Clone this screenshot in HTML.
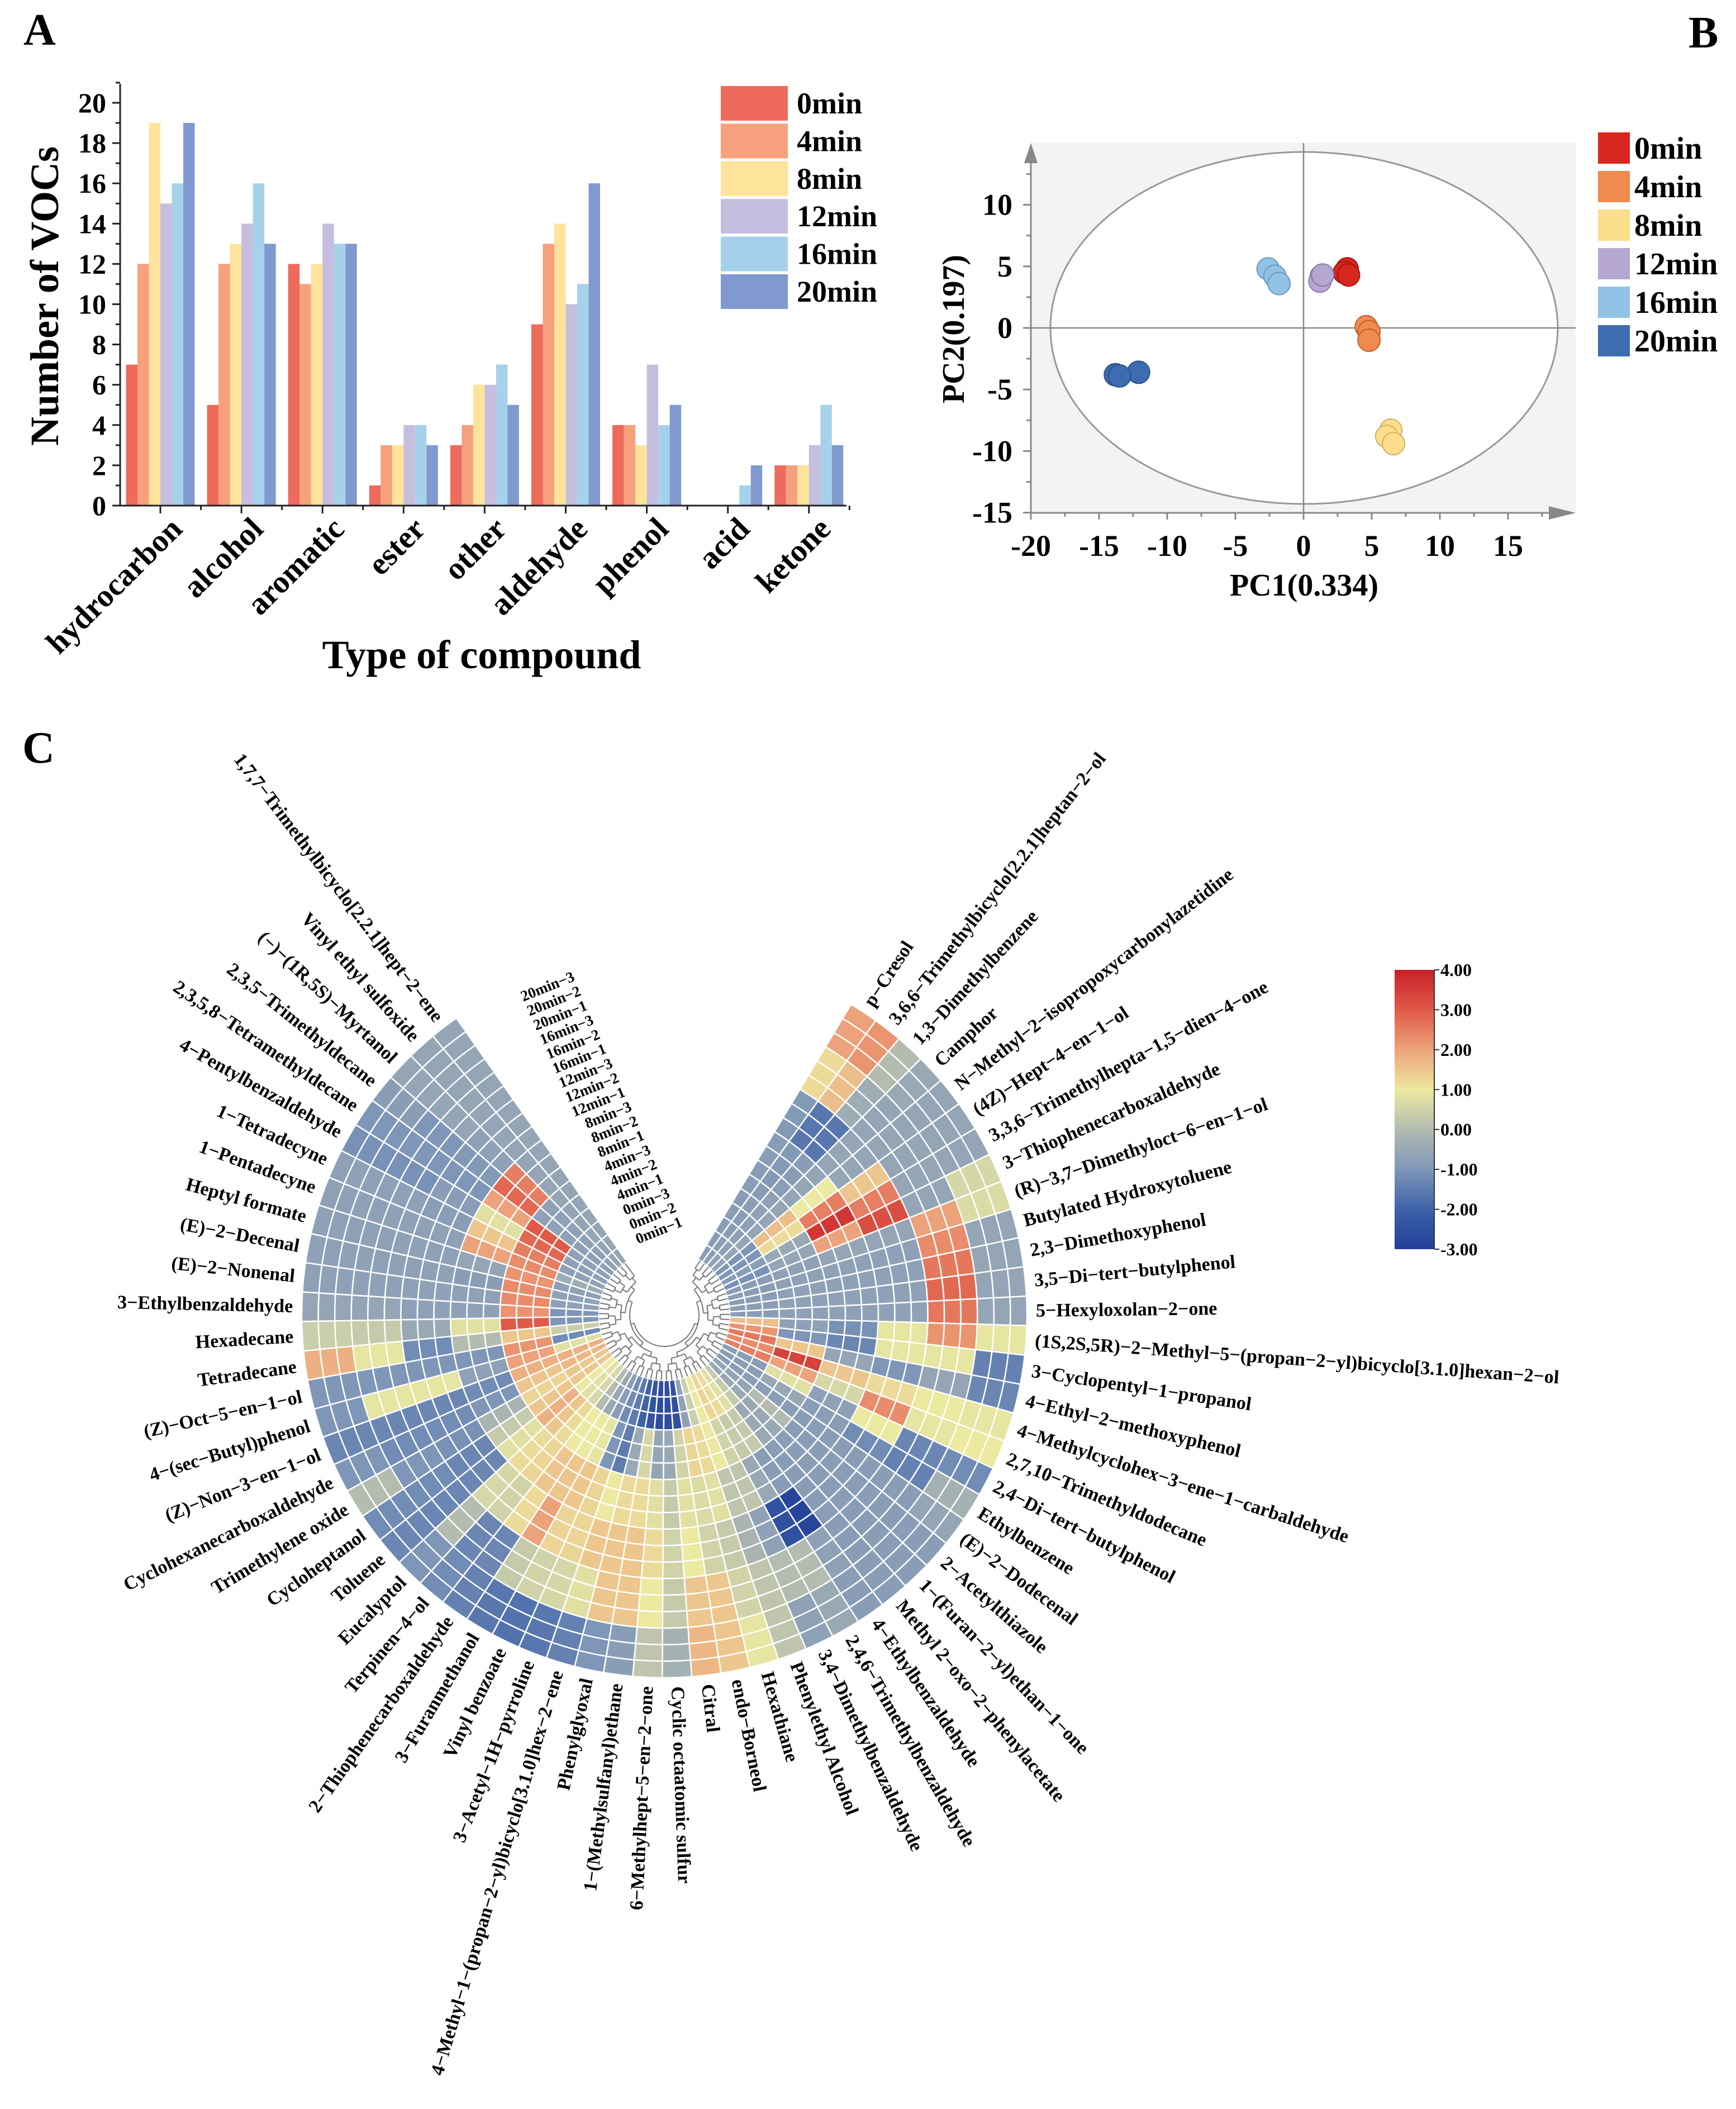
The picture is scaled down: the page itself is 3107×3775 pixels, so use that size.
<!DOCTYPE html>
<html><head><meta charset="utf-8">
<style>
html,body{margin:0;padding:0;background:#fff;}
svg{display:block;font-family:"Liberation Serif",serif;font-weight:bold;}
</style></head>
<body>
<svg id="fig" width="3107" height="3775" viewBox="0 0 3107 3775" xmlns="http://www.w3.org/2000/svg">
<rect x="0" y="0" width="3107" height="3775" fill="#fff"/>
<text x="42" y="80" font-size="80">A</text>
<text x="3022" y="85" font-size="80">B</text>
<text x="40" y="1365" font-size="80">C</text>
<g id="panelA"></g>
<g id="panelB"></g>
<g id="panelC"></g>
</svg>
<script>
// ---------- Panel A data ----------
const catA = ["hydrocarbon","alcohol","aromatic","ester","other","aldehyde","phenol","acid","ketone"];
const v0min  = [7,5,12,1,3,9,4,0,2];
const v4min  = [12,12,11,3,4,13,4,0,2];
const v8min  = [19,13,12,3,6,14,3,0,2];
const v12min = [15,14,14,4,6,10,7,0,3];
const v16min = [16,16,13,4,7,11,4,1,5];
const v20min = [19,13,13,3,5,16,5,2,3];
const seriesNamesA = ["0min","4min","8min","12min","16min","20min"];
const yTicksA = [0,2,4,6,8,10,12,14,16,18,20];

// ---------- Panel B data ----------
const groupsB = ["0min","4min","8min","12min","16min","20min"];
const pc1_0min=[3.2,3.0,3.3], pc2_0min=[4.8,4.5,4.3];
const pc1_4min=[4.6,4.8,4.8], pc2_4min=[0.1,-0.3,-1.0];
const pc1_8min=[6.4,6.1,6.6], pc2_8min=[-8.3,-8.8,-9.4];
const pc1_12min=[1.3,1.2,1.4], pc2_12min=[4.2,3.8,4.3];
const pc1_16min=[-2.6,-2.1,-1.8], pc2_16min=[4.8,4.2,3.6];
const pc1_20min=[-13.8,-12.1,-13.5], pc2_20min=[-3.8,-3.6,-3.9];
const xTicksB=[-20,-15,-10,-5,0,5,10,15];
const yTicksB=[-15,-10,-5,0,5,10];

// ---------- Panel C data ----------
const compounds = ["p−Cresol","3,6,6−Trimethylbicyclo[2.2.1]heptan−2−ol","1,3−Dimethylbenzene","Camphor","N−Methyl−2−isopropoxycarbonylazetidine","(4Z)−Hept−4−en−1−ol","3,3,6−Trimethylhepta−1,5−dien−4−one","3−Thiophenecarboxaldehyde","(R)−3,7−Dimethyloct−6−en−1−ol","Butylated Hydroxytoluene","2,3−Dimethoxyphenol","3,5−Di−tert−butylphenol","5−Hexyloxolan−2−one","(1S,2S,5R)−2−Methyl−5−(propan−2−yl)bicyclo[3.1.0]hexan−2−ol","3−Cyclopentyl−1−propanol","4−Ethyl−2−methoxyphenol","4−Methylcyclohex−3−ene−1−carbaldehyde","2,7,10−Trimethyldodecane","2,4−Di−tert−butylphenol","Ethylbenzene","(E)−2−Dodecenal","2−Acetylthiazole","1−(Furan−2−yl)ethan−1−one","Methyl 2−oxo−2−phenylacetate","4−Ethylbenzaldehyde","2,4,6−Trimethylbenzaldehyde","3,4−Dimethylbenzaldehyde","Phenylethyl Alcohol","Hexathiane","endo−Borneol","Citral","Cyclic octaatomic sulfur","6−Methylhept−5−en−2−one","1−(Methylsulfanyl)ethane","Phenylglyoxal","4−Methyl−1−(propan−2−yl)bicyclo[3.1.0]hex−2−ene","3−Acetyl−1H−pyrroline","Vinyl benzoate","3−Furanmethanol","2−Thiophenecarboxaldehyde","Terpinen−4−ol","Eucalyptol","Toluene","Cycloheptanol","Trimethylene oxide","Cyclohexanecarboxaldehyde","(Z)−Non−3−en−1−ol","4−(sec−Butyl)phenol","(Z)−Oct−5−en−1−ol","Tetradecane","Hexadecane","3−Ethylbenzaldehyde","(E)−2−Nonenal","(E)−2−Decenal","Heptyl formate","1−Pentadecyne","1−Tetradecyne","4−Pentylbenzaldehyde","2,3,5,8−Tetramethyldecane","2,3,5−Trimethyldecane","(−)−(1R,5S)−Myrtanol","Vinyl ethyl sulfoxide","1,7,7−Trimethylbicyclo[2.2.1]hept−2−ene"];
const samples = ["0min−1","0min−2","0min−3","4min−1","4min−2","4min−3","8min−1","8min−2","8min−3","12min−1","12min−2","12min−3","16min−1","16min−2","16min−3","20min−1","20min−2","20min−3"];
// values per compound: [0min,4min,8min,12min,16min,20min]
const heatValues = [
[-0.8,-0.8,-0.8,-0.9,1.2,2.0],
[-0.8,-0.8,-0.9,-1.6,1.6,2.2],
[-0.7,-0.7,-0.8,-1.6,-0.4,0.0],
[-0.6,-0.6,-0.6,-0.6,-0.6,-0.5],
[-1.0,1.6,1.0,-0.6,-0.6,-0.6],
[-1.0,1.2,2.5,1.5,-0.6,-0.6],
[-0.8,-0.5,3.6,2.5,-0.6,-0.6],
[-1.1,-0.6,2.0,3.2,-0.6,0.6],
[-0.8,-0.7,-0.6,-0.6,2.0,0.7],
[-0.8,-0.7,-0.7,-0.7,2.3,-0.6],
[-0.8,-0.7,-0.7,-0.7,2.6,-0.6],
[-0.8,-0.7,-0.7,-0.7,2.8,-0.6],
[-0.8,-0.7,-0.7,-0.7,2.6,-0.6],
[1.6,-0.7,-1.1,0.9,2.2,0.9],
[2.2,-1.0,-1.3,0.9,0.9,-1.4],
[2.6,1.5,-0.6,-1.0,-0.6,-1.3],
[2.3,3.4,1.5,1.2,1.0,0.9],
[2.5,2.0,0.6,2.3,0.9,1.0],
[-0.8,0.8,-0.7,1.0,-1.3,-1.2],
[-0.8,-0.5,-0.8,-1.2,-1.4,-0.3],
[-0.8,-0.8,-0.8,-0.8,-0.8,-0.6],
[-0.6,0.0,-0.8,-0.8,-0.8,-0.8],
[-0.5,-0.5,-0.8,-0.8,-0.8,-0.8],
[0.3,-0.5,-0.8,-0.8,-0.8,-0.8],
[0.8,0.3,-0.8,-2.8,-0.7,-0.8],
[1.2,0.3,-0.5,-2.5,0.0,-0.5],
[1.3,0.5,0.2,-0.7,0.0,-0.7],
[1.0,1.0,0.2,-0.2,0.2,0.2],
[0.4,1.2,0.8,0.3,0.5,0.9],
[-0.7,1.3,0.7,0.5,1.5,1.5],
[-2.5,0.5,0.8,1.0,1.5,1.7],
[-2.6,-0.5,0.3,0.5,0.3,-0.3],
[-2.6,-0.6,0.8,1.2,1.0,0.2],
[-2.4,0.6,1.2,1.5,1.5,-0.8],
[-2.0,-0.5,1.2,1.5,1.5,-1.0],
[-1.5,-1.5,1.0,1.5,0.8,-1.4],
[-1.2,-1.0,1.3,1.3,0.6,-1.6],
[-0.8,0.9,1.5,1.3,0.5,-1.7],
[-0.5,1.0,1.5,2.0,0.3,-1.6],
[0.0,1.0,1.5,1.2,-1.3,-1.4],
[0.6,1.2,1.3,0.5,-1.3,-1.2],
[0.8,1.5,1.2,0.6,0.0,-1.0],
[1.0,1.8,0.8,-1.3,-1.3,-1.3],
[1.5,1.5,0.3,-1.3,-1.2,-1.2],
[1.5,1.3,-0.2,-1.1,-1.0,0.0],
[1.7,1.5,-1.0,-1.2,-1.2,-1.0],
[1.8,1.8,-1.2,-1.3,-1.3,-1.3],
[0.8,2.0,-0.7,0.9,0.9,-1.0],
[-1.2,2.2,-1.0,-1.0,-1.0,-1.0],
[0.4,1.5,0.0,-1.2,0.9,1.8],
[-1.0,3.0,0.8,-0.5,0.3,0.4],
[-1.0,2.2,-0.7,-0.7,-0.6,-0.6],
[-0.7,2.3,-0.7,-0.7,-0.7,-0.7],
[-0.7,2.3,-0.8,-0.7,-0.7,-0.7],
[-0.7,2.2,-0.6,-0.7,-0.7,-0.7],
[-0.4,2.3,2.0,-0.7,-0.7,-0.7],
[-0.7,2.5,1.5,-0.8,-0.7,-0.7],
[-0.7,2.8,0.8,-0.8,-1.1,-1.1],
[-0.7,3.0,2.0,-1.0,-1.0,-1.0],
[-0.7,-0.7,2.8,-0.9,-1.0,-0.8],
[-0.7,-0.7,2.5,-0.7,-0.6,-0.6],
[-0.6,-0.6,-0.6,-0.6,-0.6,-0.6],
[-0.6,-0.6,-0.6,-0.6,-0.6,-0.6]
];
const colorbarTicks = [4,3,2,1,0,-1,-2,-3];

const NS="http://www.w3.org/2000/svg";
function mk(tag,attrs,parent){const e=document.createElementNS(NS,tag);for(const k in attrs)e.setAttribute(k,attrs[k]);parent.appendChild(e);return e;}

// ================= Panel A =================
(function(){
const g=document.getElementById('panelA');
const colsA=["#ee6a5a","#f6a07e","#fde49a","#c6bedf","#a5d2ea","#8099cf"];
const seriesA=[v0min,v4min,v8min,v12min,v16min,v20min];
const x0=215, y0=905, yTop=150, xEnd=1515;
const ys=v=>y0-v*36.05;
const gx=i=>287+i*145.1;
const bw=20.5;
seriesA.forEach((arr,j)=>{
  arr.forEach((v,i)=>{
    if(v<=0) return;
    const r=mk('rect',{x:gx(i)+(j-3)*bw,y:ys(v),width:bw,height:y0-ys(v),fill:colsA[j]},g);
    
    
  });
});
const ax=mk('path',{d:`M${x0} ${yTop} V${y0} H${xEnd}`,stroke:'#222',fill:'none','stroke-width':3},g);

for(let v=0;v<=21;v++){
  const major=v%2===0;
  mk('line',{x1:x0,x2:x0-(major?14:8),y1:ys(v),y2:ys(v),stroke:'#222','stroke-width':3},g);
}
yTicksA.forEach(v=>{
  const t=mk('text',{x:190,y:ys(v)+17,'font-size':50,'text-anchor':'end'},g);t.textContent=v;
  
});
catA.forEach((c,i)=>{
  mk('line',{x1:gx(i),x2:gx(i),y1:y0,y2:y0+14,stroke:'#222','stroke-width':3},g);
  mk('line',{x1:gx(i)+72.5,x2:gx(i)+72.5,y1:y0,y2:y0+8,stroke:'#222','stroke-width':3},g);
  const t=mk('text',{x:gx(i)+42,y:950,'font-size':57,'text-anchor':'end',transform:`rotate(-45 ${gx(i)+42} 950)`},g);
  t.textContent=c;
  
});
const yt=mk('text',{x:0,y:0,'font-size':72,'text-anchor':'middle',transform:'translate(104 530) rotate(-90)'},g);
yt.textContent='Number of VOCs';
const xt=mk('text',{x:862,y:1196,'font-size':72,'text-anchor':'middle'},g);
xt.textContent='Type of compound';
const legY=[185,252,319,388,455,522];
seriesNamesA.forEach((n,j)=>{
  const cy=legY[0]+j*67.4;
  const r=mk('rect',{x:1290,y:cy-31,width:120,height:62,fill:colsA[j]},g);
  
  const t=mk('text',{x:1426,y:cy+18,'font-size':54},g);t.textContent=n;
  
});
})();

// ================= Panel B =================
(function(){
const g=document.getElementById('panelB');
const colsB=["#d7261e","#f08a4f","#fbdd8b","#b5a6d2","#92c2e6","#3d6db0"];
const strokeB=["#a01810","#c0602c","#d2b060","#8a7aaa","#6a9ac0","#2a4f88"];
const xs=v=>2333+v*24.4, ys=v=>587-v*22.04;
const top=256, bot=918;
const bg=mk('rect',{x:1845,y:top,width:975,height:bot-top,fill:'#f3f3f3'},g);

const el=mk('ellipse',{cx:2334,cy:587,rx:454,ry:315,fill:'#fff',stroke:'#999','stroke-width':3},g);

mk('line',{x1:xs(0),x2:xs(0),y1:top,y2:bot,stroke:'#888','stroke-width':2.5},g);
mk('line',{x1:1845,x2:2820,y1:ys(0),y2:ys(0),stroke:'#888','stroke-width':2.5},g);
const ax=mk('path',{d:`M1845 290 V${bot} H2780`,stroke:'#888',fill:'none','stroke-width':3},g);

mk('path',{d:`M1845 ${top} L1833 ${top+36} L1857 ${top+36} Z`,fill:'#888'},g);
mk('path',{d:`M2820 ${bot} L2772 ${bot-12} L2772 ${bot+12} Z`,fill:'#888'},g);
for(let v=-20;v<=17.5;v+=2.5){const maj=v%5===0;mk('line',{x1:xs(v),x2:xs(v),y1:bot,y2:bot+(maj?12:7),stroke:'#888','stroke-width':3},g);}
for(let v=-15;v<=12.5;v+=2.5){const maj=v%5===0;mk('line',{x1:1845,x2:1845-(maj?14:8),y1:ys(v),y2:ys(v),stroke:'#888','stroke-width':3},g);}
xTicksB.forEach(v=>{const t=mk('text',{x:xs(v),y:995,'font-size':54,'text-anchor':'middle'},g);t.textContent=v;
 });
yTicksB.forEach(v=>{const t=mk('text',{x:1812,y:ys(v)+18,'font-size':54,'text-anchor':'end'},g);t.textContent=v;
 });
const xt=mk('text',{x:2334,y:1066,'font-size':56,'text-anchor':'middle'},g);xt.textContent='PC1(0.334)';

const yt=mk('text',{x:0,y:0,'font-size':56,'text-anchor':'middle',transform:'translate(1725 589) rotate(-90)'},g);yt.textContent='PC2(0.197)';

const px=[pc1_0min,pc1_4min,pc1_8min,pc1_12min,pc1_16min,pc1_20min];
const py=[pc2_0min,pc2_4min,pc2_8min,pc2_12min,pc2_16min,pc2_20min];
px.forEach((arr,j)=>{arr.forEach((v,k)=>{
  const c=mk('circle',{cx:xs(v),cy:ys(py[j][k]),r:20,fill:colsB[j],stroke:strokeB[j],'stroke-width':2},g);
  
});});
groupsB.forEach((n,j)=>{
  const cy=265+j*69;
  const r=mk('rect',{x:2860,y:cy-28,width:57,height:56,fill:colsB[j]},g);
  
  const t=mk('text',{x:2925,y:cy+19,'font-size':56},g);t.textContent=n;
  
});
})();

// ================= Panel C =================
(function(){
const g=document.getElementById('panelC');
const cx=1189, cy=2354, rIn=117, rOut=649, a0=31, da=(325-31)/compounds.length;
const ringW=(rOut-rIn)/samples.length;
const stops=[[-3,[33,63,152]],[-2,[62,98,168]],[-1,[126,150,184]],[0,[180,188,176]],[1,[236,233,160]],[2,[236,162,122]],[3,[224,90,72]],[4,[200,32,42]]];
function col(v){v=Math.max(-3,Math.min(4,v));for(let i=0;i<stops.length-1;i++){const [v1,c1]=stops[i],[v2,c2]=stops[i+1];if(v<=v2){const t=(v-v1)/(v2-v1);return `rgb(${c1.map((c,k)=>Math.round(c+(c2[k]-c)*t)).join(',')})`;}}return 'rgb(200,32,42)';}
const P=(r,deg)=>{const a=deg*Math.PI/180;return [cx+r*Math.sin(a),cy-r*Math.cos(a)];};
function sector(r0,r1,d0,d1){const [x1,y1]=P(r1,d0),[x2,y2]=P(r1,d1),[x3,y3]=P(r0,d1),[x4,y4]=P(r0,d0);
 return `M${x1} ${y1} A${r1} ${r1} 0 0 1 ${x2} ${y2} L${x3} ${y3} A${r0} ${r0} 0 0 0 ${x4} ${y4} Z`;}
heatValues.forEach((row,i)=>{
  for(let s=0;s<samples.length;s++){
    const v=row[Math.floor(s/3)];
    const p=mk('path',{d:sector(rIn+s*ringW,rIn+(s+1)*ringW,a0+i*da,a0+(i+1)*da),fill:col(v),stroke:'#fff','stroke-width':2.5},g);
    
    
  }
});
compounds.forEach((name,i)=>{
  const th=a0+(i+0.5)*da;const [x,y]=P(rOut+16,th);
  let t;
  if(th<180){t=mk('text',{x:x,y:y,'font-size':34,'dominant-baseline':'central','text-anchor':'start',transform:`rotate(${th-90} ${x} ${y})`},g);}
  else{t=mk('text',{x:x,y:y,'font-size':34,'dominant-baseline':'central','text-anchor':'end',transform:`rotate(${th+90} ${x} ${y})`},g);}
  t.textContent=name;
  
  
});
const dg=mk('g',{stroke:'#777','stroke-width':2,fill:'none'},g);

let nodes=compounds.map((_,i)=>({a:a0+(i+0.5)*da,r:rIn}));
const levels=[100,88,78,70,62,56];
levels.forEach((lr,li)=>{
  const next=[];
  for(let k=0;k<nodes.length;k+=2){
    const grp=nodes.slice(k,k+2);
    grp.forEach(n=>{const [x1,y1]=P(n.r,n.a),[x2,y2]=P(lr,n.a);mk('line',{x1,y1,x2,y2},dg);});
    if(grp.length>1){const [xa,ya]=P(lr,grp[0].a),[xb,yb]=P(lr,grp[1].a);mk('path',{d:`M${xa} ${ya} A${lr} ${lr} 0 0 1 ${xb} ${yb}`},dg);}
    next.push({a:(grp[0].a+grp[grp.length-1].a)/2,r:lr});
  }
  nodes=next;
});
samples.forEach((s,k)=>{
  const t1=k/(samples.length-1);
  const x=1223+(1030-1223)*t1, y=2194+(1755-2194)*t1;
  const t=mk('text',{x:x,y:y,'font-size':27,'text-anchor':'end',transform:`rotate(-22 ${x} ${y})`},g);
  t.textContent=s;
  
  
});
const defs=mk('defs',{},g);
const lg=mk('linearGradient',{id:'cbar',x1:0,y1:0,x2:0,y2:1},defs);
stops.slice().reverse().forEach(([v,c])=>{mk('stop',{offset:((4-v)/7).toFixed(4),'stop-color':`rgb(${c.join(',')})`},lg);});
const cb=mk('rect',{x:2496,y:1736,width:70,height:500,fill:'url(#cbar)'},g);

mk('line',{x1:2567,x2:2567,y1:1736,y2:2236,stroke:'#333','stroke-width':2},g);
colorbarTicks.forEach(v=>{
  const y=1736+(4-v)/7*500;
  mk('line',{x1:2567,x2:2576,y1:y,y2:y,stroke:'#333','stroke-width':2},g);
  const t=mk('text',{x:2578,y:y+11,'font-size':32},g);t.textContent=v.toFixed(2);
  
});
})();
</script>
</body></html>
